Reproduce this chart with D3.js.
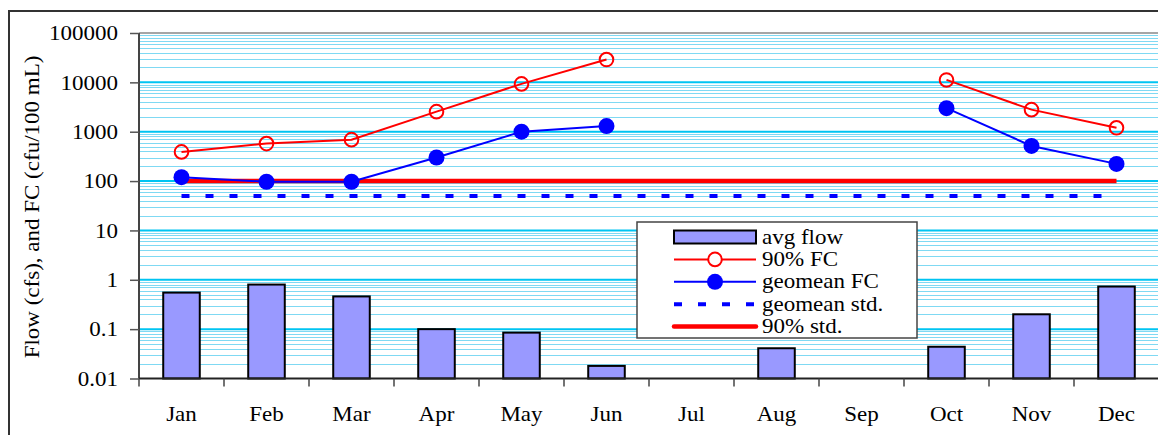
<!DOCTYPE html>
<html>
<head>
<meta charset="utf-8">
<script src="https://cdn.jsdelivr.net/npm/d3@7"></script>
<style>
  html, body { margin: 0; padding: 0; background: #fff; }
  svg text { font-family: "Liberation Serif", "Times New Roman", Times, "DejaVu Serif", serif !important; }
</style>
</head>
<body>
<svg id="chart" width="1158" height="435"></svg>
<script>
// Monthly flow and fecal coliform summary
const months = ["Jan", "Feb", "Mar", "Apr", "May", "Jun", "Jul", "Aug", "Sep", "Oct", "Nov", "Dec"];
const avgFlow = [0.55, 0.80, 0.46, 0.10, 0.085, 0.018, null, 0.041, null, 0.044, 0.20, 0.73];
const fc90 = [390, 575, 690, 2550, 9300, 29000, null, null, null, 11200, 2800, 1200];
const fcGeomean = [120, 97, 97, 300, 1000, 1300, null, null, null, 3000, 515, 223];
const geomeanStd = 50;
const pct90Std = 100;
const yTicks = [0.01, 0.1, 1, 10, 100, 1000, 10000, 100000];
const legendLabels = ["avg flow", "90% FC", "geomean FC", "geomean std.", "90% std."];

// labels are set at 20px and widened slightly
const FONT = 20, WIDEN = 1.15;
const svg = d3.select("#chart");
const plot = { left: 139, right: 1159, top: 33, bottom: 378.5 };

const x = d3.scaleBand().domain(months).range([plot.left, plot.right]).padding(0);
const y = d3.scaleLog().domain([0.01, 100000]).range([plot.bottom, plot.top]);
const cx = m => x(m) + x.bandwidth() / 2;

// outer chart frame
svg.append("rect")
  .attr("x", 9).attr("y", 11).attr("width", 1200).attr("height", 500)
  .attr("fill", "#fff").attr("stroke", "#333").attr("stroke-width", 2);

// gridlines: minor at 2..9 of each decade, major at decades
const minor = [];
for (let e = -2; e < 5; e++) for (let k = 2; k <= 9; k++) minor.push(k * Math.pow(10, e));
const grid = svg.append("g");
grid.selectAll("line.minor").data(minor).join("line")
  .attr("class", "minor")
  .attr("x1", plot.left).attr("x2", 1158)
  .attr("y1", d => Math.round(y(d)) + 0.5).attr("y2", d => Math.round(y(d)) + 0.5)
  .attr("stroke", "#7fd9f3").attr("stroke-width", 1);
grid.selectAll("line.major").data(yTicks.slice(1, -1)).join("line")
  .attr("class", "major")
  .attr("x1", plot.left).attr("x2", 1158)
  .attr("y1", d => y(d)).attr("y2", d => y(d))
  .attr("stroke", "#00c4f2").attr("stroke-width", 2);

// plot area top edge
svg.append("line")
  .attr("x1", plot.left).attr("x2", 1158).attr("y1", plot.top).attr("y2", plot.top)
  .attr("stroke", "#888").attr("stroke-width", 1.5);

// bars: average flow
const barW = x.bandwidth() * 0.43;
svg.append("g").selectAll("rect")
  .data(months.map((m, i) => ({ m, v: avgFlow[i] })).filter(d => d.v != null))
  .join("rect")
  .attr("x", d => cx(d.m) - barW / 2)
  .attr("width", barW)
  .attr("y", d => y(d.v))
  .attr("height", d => y(0.01) - y(d.v))
  .attr("fill", "#9999ff").attr("stroke", "#000").attr("stroke-width", 2);

// standards
const stdLine = v => svg.append("line")
  .attr("x1", cx(months[0])).attr("x2", cx(months[months.length - 1]))
  .attr("y1", y(v)).attr("y2", y(v));
stdLine(geomeanStd).attr("stroke", "#0000ff").attr("stroke-width", 4).attr("stroke-dasharray", "8,16");
stdLine(pct90Std).attr("stroke", "#ff0000").attr("stroke-width", 4.5);

// FC series
const line = d3.line()
  .defined(d => d.v != null)
  .x(d => cx(d.m)).y(d => y(d.v));
const series = arr => months.map((m, i) => ({ m, v: arr[i] }));

svg.append("path").datum(series(fc90))
  .attr("d", line).attr("fill", "none").attr("stroke", "#ff0000").attr("stroke-width", 2);
svg.append("g").selectAll("circle").data(series(fc90).filter(d => d.v != null)).join("circle")
  .attr("cx", d => cx(d.m)).attr("cy", d => y(d.v)).attr("r", 6.8)
  .attr("fill", "none").attr("stroke", "#ff0000").attr("stroke-width", 2);

svg.append("path").datum(series(fcGeomean))
  .attr("d", line).attr("fill", "none").attr("stroke", "#0000ff").attr("stroke-width", 2);
svg.append("g").selectAll("circle").data(series(fcGeomean).filter(d => d.v != null)).join("circle")
  .attr("cx", d => cx(d.m)).attr("cy", d => y(d.v)).attr("r", 8)
  .attr("fill", "#0000ff");

// y axis
const yAxis = svg.append("g")
  .attr("transform", `translate(${plot.left},0)`)
  .call(d3.axisLeft(y).tickValues(yTicks).tickFormat(d => String(d)).tickSize(9).tickPadding(12));
yAxis.select(".domain").attr("stroke", "#444").attr("stroke-width", 2).attr("d", `M0,${plot.top}V${plot.bottom}`);
yAxis.selectAll(".tick line").attr("stroke", "#555").attr("stroke-width", 1.5);
yAxis.selectAll(".tick text").attr("font-size", FONT).attr("fill", "#000")
  .attr("x", -21 / WIDEN).attr("dy", "0.34em")
  .attr("transform", `scale(${WIDEN},1)`);

// x axis
const xAxis = svg.append("g")
  .attr("transform", `translate(0,${plot.bottom})`)
  .call(d3.axisBottom(x).tickSize(0));
xAxis.select(".domain").attr("stroke", "#222").attr("stroke-width", 2).attr("d", `M${plot.left},0H1158`);
xAxis.selectAll(".tick text").attr("font-size", FONT).attr("fill", "#000")
  .attr("y", 43).attr("dy", 0)
  .attr("transform", `scale(${WIDEN},1)`);
xAxis.selectAll("line.bound").data(months).join("line")
  .attr("class", "bound")
  .attr("x1", d => x(d)).attr("x2", d => x(d))
  .attr("y1", 0).attr("y2", 8)
  .attr("stroke", "#444").attr("stroke-width", 1.5);

// y axis title
svg.append("text")
  .attr("transform", `translate(39,207) rotate(-90) scale(${WIDEN},1)`)
  .attr("text-anchor", "middle")
  .attr("font-size", FONT)
  .text("Flow (cfs), and FC (cfu/100 mL)");

// legend
const lg = svg.append("g").attr("transform", "translate(637,222)");
lg.append("rect").attr("x", 0).attr("y", 0).attr("width", 280).attr("height", 116)
  .attr("fill", "#fff").attr("stroke", "#444").attr("stroke-width", 1.5);
const rowY = i => 15 + i * 22.4;
const sx0 = 37, sx1 = 119, tx = 125;
// avg flow swatch
lg.append("rect").attr("x", sx0).attr("y", rowY(0) - 6.5).attr("width", sx1 - sx0).attr("height", 13)
  .attr("fill", "#9999ff").attr("stroke", "#000").attr("stroke-width", 2);
// 90% FC
lg.append("line").attr("x1", sx0).attr("x2", sx1).attr("y1", rowY(1)).attr("y2", rowY(1))
  .attr("stroke", "#ff0000").attr("stroke-width", 2);
lg.append("circle").attr("cx", (sx0 + sx1) / 2).attr("cy", rowY(1)).attr("r", 6.8)
  .attr("fill", "#fff").attr("stroke", "#ff0000").attr("stroke-width", 2);
// geomean FC
lg.append("line").attr("x1", sx0).attr("x2", sx1).attr("y1", rowY(2)).attr("y2", rowY(2))
  .attr("stroke", "#0000ff").attr("stroke-width", 2);
lg.append("circle").attr("cx", (sx0 + sx1) / 2).attr("cy", rowY(2)).attr("r", 8).attr("fill", "#0000ff");
// geomean std.
lg.append("line").attr("x1", sx0).attr("x2", sx1).attr("y1", rowY(3)).attr("y2", rowY(3))
  .attr("stroke", "#0000ff").attr("stroke-width", 4).attr("stroke-dasharray", "8,16");
// 90% std.
lg.append("line").attr("x1", sx0).attr("x2", sx1).attr("y1", rowY(4)).attr("y2", rowY(4))
  .attr("stroke", "#ff0000").attr("stroke-width", 4.5).attr("stroke-linecap", "round");
lg.selectAll("text.lbl").data(legendLabels).join("text")
  .attr("class", "lbl")
  .attr("transform", (d, i) => `translate(${tx},${rowY(i) + 6.5}) scale(${WIDEN},1)`)
  .attr("font-size", FONT)
  .text(d => d);
</script>
</body>
</html>
